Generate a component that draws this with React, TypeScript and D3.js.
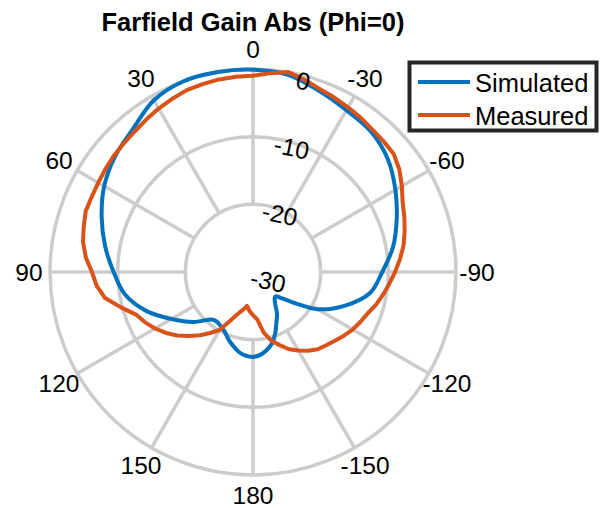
import React from 'react';
import * as d3 from 'd3';

const thetaTicks = [0, 30, 60, 90, 120, 150, 180, -150, -120, -90, -60, -30];
const rTicks = [-30, -20, -10, 0];
const seriesNames = ['Simulated', 'Measured'];
const seriesColors = ['#0072BD', '#D95319'];
const titleText = 'Farfield Gain Abs (Phi=0)';

const simAngles = [0, 10, 20, 30, 40, 50, 60, 70, 80, 90, 100, 110, 120, 130, 140, 145, 150, 155, 160, 165, 170, 175, 180,
  -175, -170, -165, -160, -155, -150, -145, -140, -137, -133, -130, -125, -120, -110, -100, -90, -80, -70, -60, -50, -40, -30, -20, -10];
const simGain = [-0.1, 0, 0, -0.7, -2.4, -3.4, -4.6, -6.2, -7.8, -9.4, -10.8, -13.2, -16.1, -18.5, -20.8, -20.9, -20.6, -20.2, -19.4, -18.7, -18.0, -17.6, -17.45,
  -17.7, -18.3, -19.1, -20.4, -21.8, -22.9, -24.3, -25.0, -25.1, -24.4, -23.6, -21.6, -19.0, -15.5, -12.4, -10.9, -9.0, -7.4, -5.7, -4.0, -2.9, -2.4, -1.5, -0.4];

const measAngles = [0, 5, 10, 15, 20, 25, 30, 35, 40, 45, 50, 55, 60, 65, 70, 75, 80, 85, 90, 95, 100, 105, 110, 115, 120, 125, 130, 135, 140, 145, 150, 155, 160, 165, 170, 175, 180,
  -175, -170, -165, -160, -155, -150, -145, -140, -135, -130, -125, -120, -115, -110, -105, -100, -95, -90, -85, -80, -75, -70, -65, -60, -55, -50, -45, -40, -35, -30, -25, -20, -15, -10, -5];
const measGain = [-1.0, -1.05, -1.1, -1.25, -1.4, -1.75, -2.1, -2.5, -2.85, -3.05, -3.2, -3.4, -3.6, -3.7, -3.7, -4.1, -4.5, -5.2, -6.2, -6.8, -7.8, -9.8, -11.6, -12.4, -13.3, -14.3, -15.4, -16.6, -17.8, -19.0, -20.1, -22.1, -23.4, -24.2, -24.9, -24.2, -23.6,
  -23.0, -20.9, -19.5, -18.5, -17.4, -16.6, -15.8, -15.1, -14.7, -14.2, -13.6, -13.0, -12.5, -12.0, -11.2, -10.5, -9.8, -9.0, -8.2, -7.4, -6.8, -6.2, -5.6, -4.6, -3.6, -2.85, -2.7, -2.55, -2.2, -1.9, -1.55, -1.2, -0.6, 0, -0.5];

const W = 602;
const H = 508;
const cx = 253;
const cy = 272;
const R = 203;
const FONT = '"Liberation Sans", Arial, Helvetica, sans-serif';
const GRID = '#cccccc';

export default function App() {
  const rScale = d3.scaleLinear().domain([-30, 0]).range([0, R]);
  const toRad = (deg: number) => (deg * Math.PI) / 180;
  const px = (deg: number, r: number) => cx - r * Math.sin(toRad(deg));
  const py = (deg: number, r: number) => cy - r * Math.cos(toRad(deg));

  const simData: [number, number][] = simAngles.map((a, i) => [a, simGain[i]]);
  const measData: [number, number][] = measAngles.map((a, i) => [a, measGain[i]]);

  const simLine = d3
    .lineRadial<[number, number]>()
    .angle((d) => -toRad(d[0]))
    .radius((d) => rScale(d[1]))
    .curve(d3.curveCatmullRomClosed.alpha(0.5));
  const measLine = d3
    .lineRadial<[number, number]>()
    .angle((d) => -toRad(d[0]))
    .radius((d) => rScale(d[1]))
    .curve(d3.curveLinearClosed);

  const innerR = rScale(-20);
  const spokeAngles = d3.range(0, 360, 30);

  return (
    <svg width={W} height={H} style={{ position: 'absolute', left: 0, top: 0, background: '#fff' }} fontFamily={FONT}>
      <rect x={0} y={0} width={W} height={H} fill="#fff" />
      <text x={cx} y={31} textAnchor="middle" fontSize={25.5} fontWeight="bold" fill="#000">
        {titleText}
      </text>
      {/* grid */}
      <g>
        {spokeAngles.map((a) => (
          <line
            key={'s' + a}
            x1={px(a, innerR)}
            y1={py(a, innerR)}
            x2={px(a, R)}
            y2={py(a, R)}
            stroke={GRID}
            strokeWidth={3.5}
          />
        ))}
        {rTicks
          .filter((t) => t > -30)
          .map((t) => (
            <circle key={'c' + t} cx={cx} cy={cy} r={rScale(t)} fill="none" stroke={GRID} strokeWidth={3.5} />
          ))}
      </g>
      {/* theta labels */}
      {thetaTicks.map((t) => (
        <text
          key={'t' + t}
          x={px(t, R + 21)}
          y={py(t, R + 20)}
          textAnchor="middle"
          dominantBaseline="central"
          fontSize={24.5}
          fill="#000"
        >
          {t}
        </text>
      ))}
      {/* curves */}
      <g transform={`translate(${cx},${cy})`}>
        <path d={simLine(simData) || ''} fill="none" stroke={seriesColors[0]} strokeWidth={4} strokeLinejoin="round" />
        <path d={measLine(measData) || ''} fill="none" stroke={seriesColors[1]} strokeWidth={4} strokeLinejoin="round" />
      </g>
      {/* r labels */}
      {rTicks.map((t) => {
        const x = px(-10, rScale(t)) + 15;
        const y = py(-10, rScale(t)) + 9;
        return (
          <text
            key={'r' + t}
            x={x}
            y={y}
            textAnchor="middle"
            dominantBaseline="central"
            fontSize={24.5}
            fill="#000"
            transform={`rotate(12,${x},${y})`}
          >
            {t}
          </text>
        );
      })}
      {/* legend */}
      <g>
        <rect x={409.5} y={62.5} width={187} height={68} fill="#fff" stroke="#262626" strokeWidth={4} />
        {seriesNames.map((n, i) => (
          <g key={n}>
            <line x1={418} x2={470} y1={82 + i * 33} y2={82 + i * 33} stroke={seriesColors[i]} strokeWidth={4} />
            <text x={475} y={83 + i * 33} dominantBaseline="central" fontSize={25.5} fill="#000">
              {n}
            </text>
          </g>
        ))}
      </g>
    </svg>
  );
}
